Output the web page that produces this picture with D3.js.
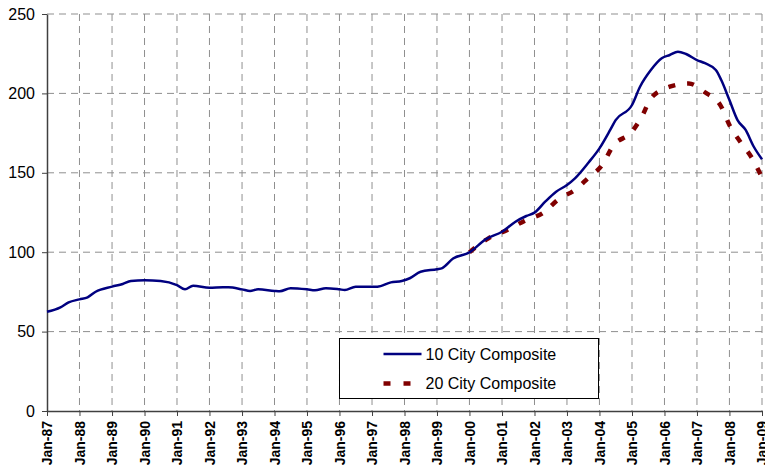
<!DOCTYPE html>
<html>
<head>
<meta charset="utf-8">
<script src="https://cdn.jsdelivr.net/npm/d3@7"></script>
<style>
  body { margin: 0; background: #fff; }
  svg { display: block; font-family: Arial, "Liberation Sans", sans-serif; }
</style>
</head>
<body>
<script>
// 10 City Composite
const tenDates = ["1987-01","1987-06","1987-09","1988-01","1988-04","1988-07","1989-01","1989-05","1989-08",
  "1990-01","1990-07","1991-01","1991-04","1991-07","1992-01","1992-06","1992-08","1993-01","1993-04","1993-07",
  "1994-01","1994-03","1994-07","1995-01","1995-04","1995-08","1996-01","1996-03","1996-07","1997-01","1997-03",
  "1997-08","1997-12","1998-03","1998-07","1999-01","1999-03","1999-07","2000-01","2000-07","2001-01","2001-06",
  "2001-10","2002-01","2002-05","2002-09","2003-01","2003-04","2003-09","2004-01","2004-05","2004-07","2005-01",
  "2005-04","2005-08","2005-12","2006-03","2006-06","2006-09","2007-01","2007-04","2007-08","2007-10","2008-01",
  "2008-04","2008-07","2008-10","2009-01"];
const tenValues = [62.5,65.3,68.4,70.3,71.6,75.1,78.3,80,81.9,
  82.3,81.9,79.3,76.6,78.9,77.6,77.9,77.9,76.6,75.6,76.6,
  75.6,75.4,77.3,76.6,76,77.3,76.6,76.2,78.3,78.3,78.3,
  81,81.9,83.6,87.7,89.3,90,96,99.9,108.1,112.9,119.2,
  122.8,124.9,131.8,138.1,142.3,146.5,156.5,165.4,177,183.2,192.7,
  204.2,214.7,222.1,224.2,226.3,224.8,221,219,214.7,208.4,195.8,
  183.2,177,166.4,158.5];

// 20 City Composite
const twentyDates = ["2000-01","2000-08","2001-03","2001-10","2002-04","2002-10","2003-04","2003-09","2004-02",
  "2004-06","2005-01","2005-05","2005-08","2006-03","2006-10","2007-04","2007-10","2008-01","2008-05","2008-09","2009-01"];
const twentyValues = [100,108.7,114,120.3,124.5,133.5,139.2,147,154.9,
  166.9,175.9,186.4,196.9,204.2,206.3,200.7,191.6,180.1,169.6,160.1,147];

const yTicks = [0, 50, 100, 150, 200, 250];
const xTickYears = d3.range(1987, 2010);
const seriesNames = ["10 City Composite", "20 City Composite"];

const parse = d3.timeParse("%Y-%m");
const ten = tenDates.map((d, i) => ({date: parse(d), value: tenValues[i]}));
const twenty = twentyDates.map((d, i) => ({date: parse(d), value: twentyValues[i]}));

const svg = d3.select("body").append("svg")
    .attr("width", 765)
    .attr("height", 471);

const margin = {top: 14, right: 3, bottom: 60, left: 47},
      width = 765 - margin.left - margin.right,
      height = 471 - margin.top - margin.bottom;

const g = svg.append("g").attr("transform", `translate(${margin.left},${margin.top})`);

const x = d3.scaleTime()
    .domain([new Date(1987, 0, 1), new Date(2009, 0, 1)])
    .range([0, width]);
const y = d3.scaleLinear().domain([0, 250]).range([height, 0]);

const xTicks = xTickYears.map(yr => new Date(yr, 0, 1));

// grid
g.append("g").selectAll("line")
    .data(yTicks.filter(v => v > 0))
    .join("line")
    .attr("x1", 0).attr("x2", width)
    .attr("y1", d => y(d)).attr("y2", d => y(d))
    .attr("stroke", "#8f8f8f")
    .attr("stroke-dasharray", "7,5");

g.append("g").selectAll("line")
    .data(xTicks.slice(1))
    .join("line")
    .attr("x1", d => x(d)).attr("x2", d => x(d))
    .attr("y1", 0).attr("y2", height)
    .attr("stroke", "#8f8f8f")
    .attr("stroke-dasharray", "7,5");

// axes
const yAxis = g.append("g")
    .call(d3.axisLeft(y).tickValues(yTicks).tickSize(5).tickSizeOuter(0).tickPadding(7));
yAxis.selectAll("text").attr("font-size", 16).attr("fill", "#000").attr("font-family", null);

const xAxis = g.append("g")
    .attr("transform", `translate(0,${height})`)
    .call(d3.axisBottom(x).tickValues(xTicks).tickFormat(d3.timeFormat("%b-%y")).tickSize(5).tickSizeOuter(0));
xAxis.selectAll("text")
    .attr("transform", "rotate(-90)")
    .attr("x", -10)
    .attr("y", 0)
    .attr("dy", "0.35em")
    .style("text-anchor", "end")
    .attr("font-size", 14)
    .attr("font-weight", "bold")
    .attr("fill", "#000")
    .attr("font-family", null);

[yAxis, xAxis].forEach(a => {
  a.select(".domain").attr("stroke", "#404040").attr("stroke-width", 1.5);
  a.selectAll(".tick line").attr("stroke", "#404040");
});

// lines
const line = d3.line()
    .x(d => x(d.date))
    .y(d => y(d.value))
    .curve(d3.curveMonotoneX);

g.append("path")
    .datum(twenty)
    .attr("fill", "none")
    .attr("stroke", "#800000")
    .attr("stroke-width", 4.5)
    .attr("stroke-dasharray", "7,12")
    .attr("d", line);

g.append("path")
    .datum(ten)
    .attr("fill", "none")
    .attr("stroke", "#000080")
    .attr("stroke-width", 2.5)
    .attr("d", line);

// legend
const legend = svg.append("g").attr("transform", "translate(339.5,338.5)");
legend.append("rect")
    .attr("width", 259).attr("height", 60)
    .attr("fill", "#fff").attr("stroke", "#000");

const styles = [
  {stroke: "#000080", width: 2.5, dash: null},
  {stroke: "#800000", width: 4.5, dash: "7,13"}
];
seriesNames.forEach((name, i) => {
  const row = legend.append("g").attr("transform", `translate(0,${15.5 + i * 29.5})`);
  row.append("line")
      .attr("x1", 44).attr("x2", 82)
      .attr("stroke", styles[i].stroke)
      .attr("stroke-width", styles[i].width)
      .attr("stroke-dasharray", styles[i].dash);
  row.append("text")
      .attr("x", 86)
      .attr("dy", "0.35em")
      .attr("font-size", 16)
      .text(name);
});
</script>
</body>
</html>
